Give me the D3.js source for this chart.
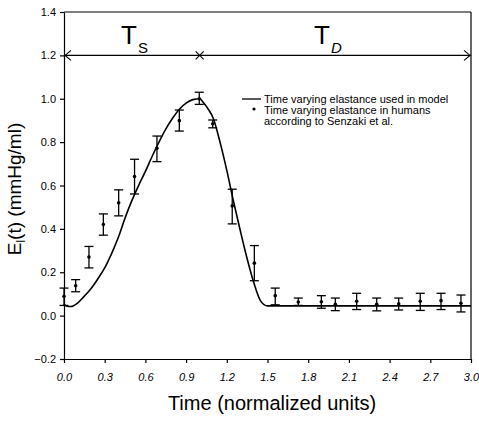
<!DOCTYPE html>
<html><head><meta charset="utf-8">
<script src="https://cdn.jsdelivr.net/npm/d3@7"></script>
<style>body{margin:0;background:#fff}svg{display:block}text{font-family:"Liberation Sans",Arial,sans-serif;fill:#000}</style>
</head><body>
<svg id="c" width="479" height="421"></svg>
<script>
// Measured data (Senzaki et al.)
const times = [0, 0.086, 0.184, 0.29, 0.403, 0.52, 0.685, 0.85, 0.997, 1.096, 1.24, 1.403, 1.557, 1.727, 1.897, 2.0, 2.157, 2.305, 2.467, 2.626, 2.779, 2.926];
const means = [0.089, 0.138, 0.27, 0.42, 0.52, 0.641, 0.772, 0.899, 1.0, 0.885, 0.506, 0.242, 0.092, 0.063, 0.064, 0.052, 0.066, 0.052, 0.054, 0.066, 0.069, 0.057];
const upper = [0.127, 0.166, 0.319, 0.469, 0.58, 0.721, 0.828, 0.948, 1.03, 0.902, 0.583, 0.323, 0.127, 0.081, 0.092, 0.081, 0.103, 0.081, 0.081, 0.103, 0.103, 0.095];
const lower = [0.047, 0.11, 0.22, 0.371, 0.46, 0.561, 0.71, 0.851, 0.974, 0.866, 0.423, 0.161, 0.05, 0.047, 0.034, 0.023, 0.028, 0.022, 0.026, 0.024, 0.028, 0.017];
// Model curve
const modelT = [0, 0.02, 0.05, 0.1, 0.15, 0.2, 0.25, 0.3, 0.35, 0.4, 0.45, 0.5, 0.55, 0.6, 0.65, 0.7, 0.75, 0.8, 0.85, 0.9, 0.95, 1.0, 1.03, 1.06, 1.1, 1.15, 1.2, 1.25, 1.3, 1.35, 1.4, 1.45, 1.5, 2.0, 2.5, 3.0];
const modelE = [0.055, 0.043, 0.042, 0.058, 0.09, 0.125, 0.17, 0.22, 0.285, 0.36, 0.45, 0.53, 0.6, 0.665, 0.735, 0.8, 0.86, 0.91, 0.952, 0.98, 0.996, 1.0, 0.98, 0.955, 0.91, 0.8, 0.67, 0.525, 0.39, 0.262, 0.15, 0.067, 0.045, 0.045, 0.045, 0.045];
const xTicks = [0, 0.3, 0.6, 0.9, 1.2, 1.5, 1.8, 2.1, 2.4, 2.7, 3.0];
const yTicks = [-0.2, 0, 0.2, 0.4, 0.6, 0.8, 1.0, 1.2, 1.4];
const legendLabels = ["Time varying elastance used in model", "Time varying elastance in humans", "according to Senzaki et al."];

const svg = d3.select("#c");
const x = d3.scaleLinear().domain([0, 3]).range([64, 471]);
const y = d3.scaleLinear().domain([-0.2, 1.4]).range([359, 12]);

// axes
const xa = svg.append("g").attr("transform", `translate(0,${y(-0.2)})`)
  .call(d3.axisBottom(x).tickValues(xTicks).tickFormat(d3.format(".1f")).tickSize(4).tickSizeOuter(0));
const ya = svg.append("g").attr("transform", `translate(${x(0)},0)`)
  .call(d3.axisLeft(y).tickValues(yTicks).tickFormat(d3.format(".1f")).tickSize(4).tickSizeOuter(0));
[xa, ya].forEach(g => {
  g.selectAll("path,line").attr("stroke", "#000").attr("stroke-width", 1.2);
  g.selectAll("text").attr("font-size", 11).attr("font-family", "Liberation Sans, Arial, sans-serif").attr("fill", "#000");
});
xa.selectAll("text").attr("dy", "1.35em").attr("font-style", "italic");
ya.selectAll("text").attr("dx", "-1px");
// top and right frame
svg.append("line").attr("x1", x(0)).attr("x2", x(3)).attr("y1", y(1.4)).attr("y2", y(1.4)).attr("stroke", "#000").attr("stroke-width", 1.2);
svg.append("line").attr("x1", x(3)).attr("x2", x(3)).attr("y1", y(1.4)).attr("y2", y(-0.2)).attr("stroke", "#000").attr("stroke-width", 1.2);

// T_S / T_D arrow line
const ay = y(1.2);
svg.append("line").attr("x1", x(0)).attr("x2", x(3)).attr("y1", ay).attr("y2", ay).attr("stroke", "#000").attr("stroke-width", 1.1);
svg.append("path").attr("d", `M${x(0)+7},${ay-5}L${x(0)+1},${ay}L${x(0)+7},${ay+5}`).attr("fill", "none").attr("stroke", "#000").attr("stroke-width", 1.1);
svg.append("path").attr("d", `M${x(3)-7},${ay-5}L${x(3)-1},${ay}L${x(3)-7},${ay+5}`).attr("fill", "none").attr("stroke", "#000").attr("stroke-width", 1.1);
svg.append("path").attr("d", `M${x(1)-4},${ay-4}L${x(1)+4},${ay+4}M${x(1)-4},${ay+4}L${x(1)+4},${ay-4}`).attr("stroke", "#000").attr("stroke-width", 1.1);
svg.append("text").attr("x", 121).attr("y", 44).attr("font-size", 26).text("T");
svg.append("text").attr("x", 138).attr("y", 53).attr("font-size", 15).text("S");
svg.append("text").attr("x", 314).attr("y", 44).attr("font-size", 26).text("T");
svg.append("text").attr("x", 331).attr("y", 53).attr("font-size", 15).attr("font-style", "italic").text("D");

// model curve
const pts = modelT.map((t, i) => [t, modelE[i]]);
svg.append("path").datum(pts)
  .attr("d", d3.line().x(d => x(d[0])).y(d => y(d[1])).curve(d3.curveMonotoneX))
  .attr("fill", "none").attr("stroke", "#000").attr("stroke-width", 1.6);

// error bars & points
const data = times.map((t, i) => ({t, m: means[i], u: upper[i], l: lower[i]}));
const eb = svg.append("g").attr("stroke", "#000").attr("stroke-width", 1.3);
data.forEach(d => {
  const cx = x(d.t);
  eb.append("line").attr("x1", cx).attr("x2", cx).attr("y1", y(d.u)).attr("y2", y(d.l));
  eb.append("line").attr("x1", cx - 4.5).attr("x2", cx + 4.5).attr("y1", y(d.u)).attr("y2", y(d.u));
  eb.append("line").attr("x1", cx - 4.5).attr("x2", cx + 4.5).attr("y1", y(d.l)).attr("y2", y(d.l));
});
svg.append("g").selectAll("circle").data(data).join("circle")
  .attr("cx", d => x(d.t)).attr("cy", d => y(d.m)).attr("r", 1.8).attr("fill", "#000");

// legend
svg.append("line").attr("x1", 242).attr("x2", 261).attr("y1", 99).attr("y2", 99).attr("stroke", "#000").attr("stroke-width", 1.3);
svg.append("circle").attr("cx", 254).attr("cy", 109).attr("r", 1.6).attr("fill", "#000");
legendLabels.forEach((s, i) => {
  svg.append("text").attr("x", 264).attr("y", 102.5 + i * 11).attr("font-size", 11).text(s);
});

// axis titles
svg.append("text").attr("x", 272).attr("y", 410).attr("text-anchor", "middle").attr("font-size", 20).text("Time (normalized units)");
const yt = svg.append("text").attr("transform", "translate(21,189) rotate(-90)").attr("text-anchor", "middle").attr("font-size", 19);
yt.append("tspan").text("E");
yt.append("tspan").attr("font-size", 12).attr("dy", 4).text("l");
yt.append("tspan").attr("dy", -4).text("(t) (mmHg/ml)");
</script>
</body></html>
